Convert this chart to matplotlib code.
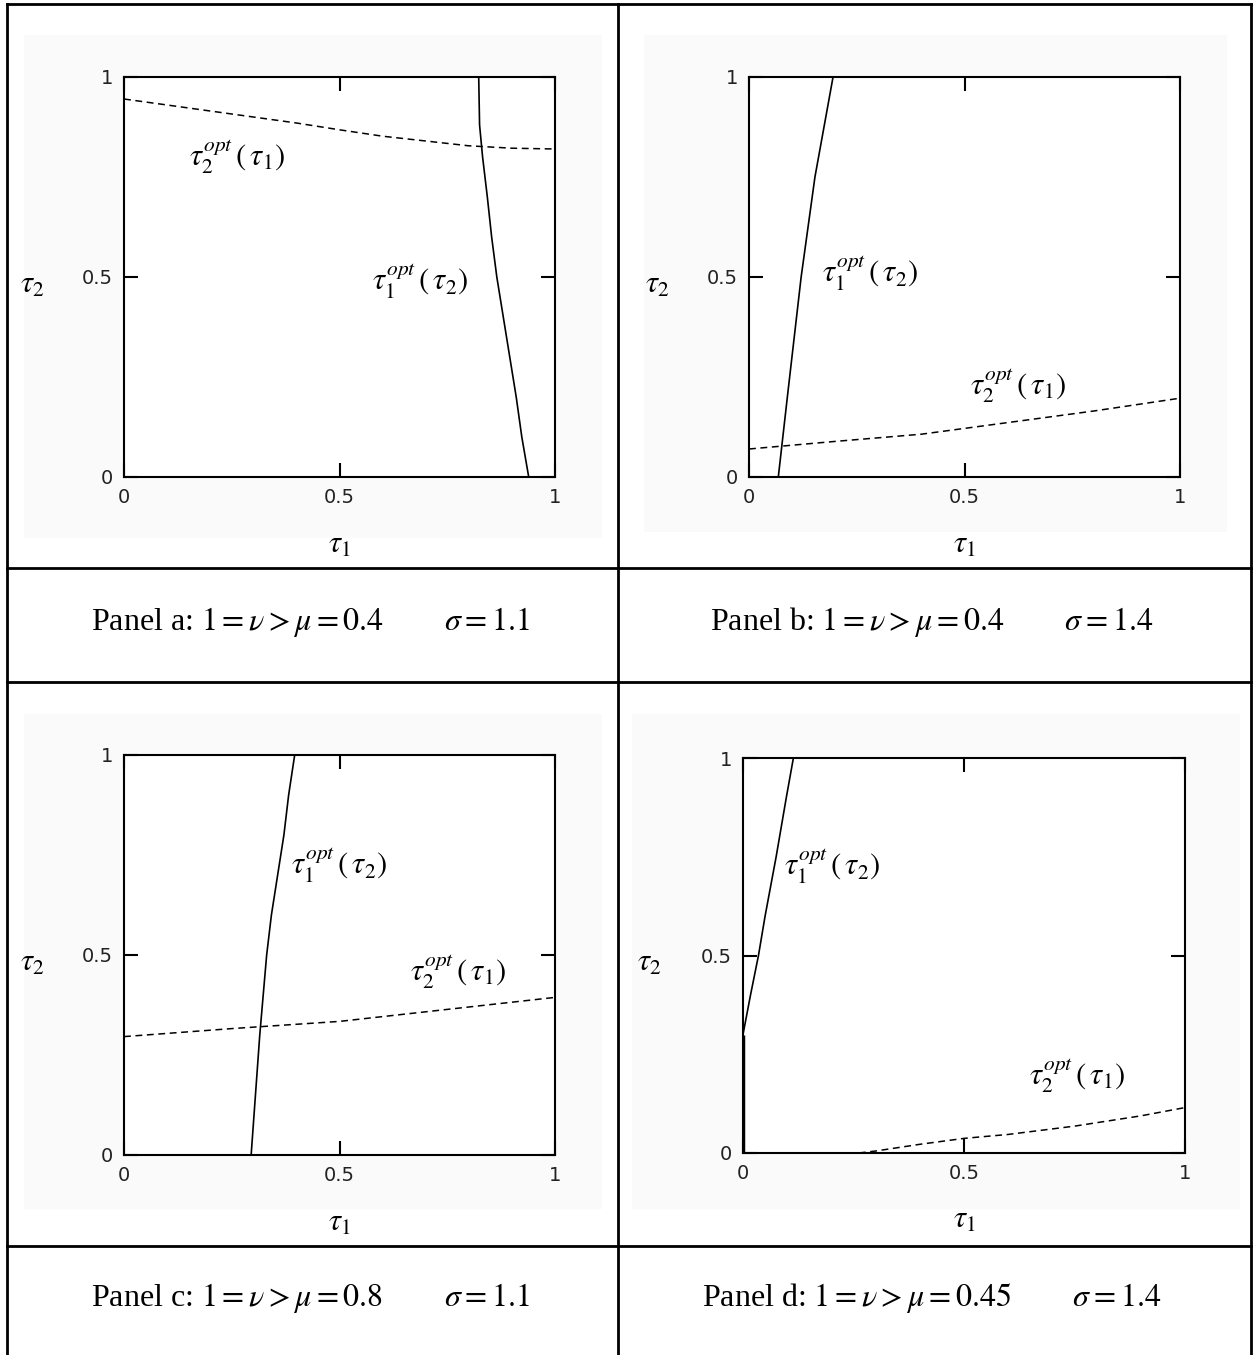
import matplotlib
matplotlib.use("Agg")
import matplotlib.pyplot as plt
from matplotlib.lines import Line2D
from matplotlib.patches import Rectangle

plt.rcParams['mathtext.fontset'] = 'stix'
plt.rcParams['font.family'] = ['Liberation Serif', 'DejaVu Serif']

W, H = 1255, 1355

# Panel a: mu = 0.4, sigma = 1.1
a_t1 = [0.0, 0.1, 0.2, 0.3, 0.4, 0.5, 0.6, 0.7, 0.8, 0.9, 1.0]
a_t2opt = [0.945, 0.93, 0.915, 0.90, 0.885, 0.868, 0.852, 0.84, 0.828, 0.822, 0.82]
a_t2 = [0.0, 0.1, 0.2, 0.3, 0.4, 0.5, 0.6, 0.7, 0.8, 0.88, 1.0]
a_t1opt = [0.939, 0.923, 0.91, 0.895, 0.88, 0.865, 0.853, 0.843, 0.832, 0.825, 0.823]

# Panel b: mu = 0.4, sigma = 1.4
b_t1 = [0.0, 0.2, 0.4, 0.6, 0.8, 1.0]
b_t2opt = [0.07, 0.089, 0.107, 0.136, 0.165, 0.197]
b_t2 = [0.0, 0.2, 0.5, 0.75, 1.0]
b_t1opt = [0.068, 0.089, 0.121, 0.153, 0.195]

# Panel c: mu = 0.8, sigma = 1.1
c_t1 = [0.0, 0.25, 0.5, 0.75, 1.0]
c_t2opt = [0.296, 0.316, 0.334, 0.364, 0.394]
c_t2 = [0.0, 0.3, 0.5, 0.6, 0.8, 0.9, 1.0]
c_t1opt = [0.295, 0.315, 0.331, 0.342, 0.371, 0.382, 0.396]

# Panel d: mu = 0.45, sigma = 1.4
d_t1 = [0.262, 0.3, 0.4, 0.5, 0.6, 0.75, 0.9, 1.0]
d_t2opt = [0.0, 0.005, 0.022, 0.037, 0.047, 0.068, 0.094, 0.115]
d_t2 = [0.0, 0.3, 0.4, 0.5, 0.6, 0.75, 0.9, 1.0]
d_t1opt = [0.0, 0.0, 0.017, 0.035, 0.05, 0.075, 0.098, 0.114]

captions = [r'Panel a: $1=\nu>\mu=0.4\qquad\ \ \sigma=1.1$',
            r'Panel b: $1=\nu>\mu=0.4\qquad\ \ \sigma=1.4$',
            r'Panel c: $1=\nu>\mu=0.8\qquad\ \ \sigma=1.1$',
            r'Panel d: $1=\nu>\mu=0.45\qquad\ \ \sigma=1.4$']

lab_t1opt = r'$\tau_1^{opt}\,\left(\,\tau_2\right)$'
lab_t2opt = r'$\tau_2^{opt}\,\left(\,\tau_1\right)$'

fig = plt.figure(figsize=(W / 100, H / 100), dpi=100)


def fx(px):
    return px / W


def fy(py):
    return 1 - py / H


# faint grey backgrounds of the pasted plots
for (x0, y0, x1, y1) in [(24, 35, 602, 538), (644, 35, 1227, 532),
                         (24, 714, 602, 1209), (632, 714, 1240, 1209)]:
    fig.add_artist(Rectangle((fx(x0), fy(y1)), fx(x1 - x0), (y1 - y0) / H,
                             transform=fig.transFigure, facecolor='#fafafa',
                             edgecolor='none', zorder=0))

# table lines
tl = dict(color='black', lw=2.0, transform=fig.transFigure)
for x in [6.5, 618, 1251]:
    fig.add_artist(Line2D([fx(x), fx(x)], [fy(4), 0], **tl))
for y in [4, 568, 682, 1246]:
    fig.add_artist(Line2D([fx(6.5), fx(1251)], [fy(y), fy(y)], **tl))

# axes boxes (left, right, top, bottom) in pixels
boxes = [(124, 555, 77, 477), (749, 1180, 77, 477),
         (124, 555, 755, 1155), (743, 1185, 758, 1153)]

curves = [(a_t1, a_t2opt, a_t2, a_t1opt),
          (b_t1, b_t2opt, b_t2, b_t1opt),
          (c_t1, c_t2opt, c_t2, c_t1opt),
          (d_t1, d_t2opt, d_t2, d_t1opt)]

# label positions in axes coords: (t1opt label, t2opt label)
label_pos = [((0.575, 0.49), (0.15, 0.80)),
             ((0.17, 0.51), (0.513, 0.228)),
             ((0.388, 0.725), (0.663, 0.458)),
             ((0.093, 0.726), (0.647, 0.195))]

cap_y = [622, 622, 1298, 1298]
cap_x = [310, 932, 310, 932]

for i, (l, r, t, b) in enumerate(boxes):
    ax = fig.add_axes([fx(l), fy(b), (r - l) / W, (b - t) / H])
    ax.set_facecolor('white')
    x1, y1, y2, x2 = curves[i]
    ax.plot(x1, y1, color='black', lw=1.1, ls=(0, (4.5, 3)))
    if i == 3:
        ax.plot([0, 0], [0, 0.3], color='black', lw=2.5, solid_capstyle='butt')
        ax.plot(x2[1:], y2[1:], color='black', lw=1.2)
    else:
        ax.plot(x2, y2, color='black', lw=1.2)
    ax.set_xlim(0, 1)
    ax.set_ylim(0, 1)
    for s in ax.spines.values():
        s.set_linewidth(1.5)
    ax.set_xticks([0, 0.5, 1])
    ax.set_yticks([0, 0.5, 1])
    ax.set_xticklabels(['0', '0.5', '1'])
    ax.set_yticklabels(['0', '0.5', '1'])
    ax.tick_params(direction='in', length=10, width=1.5, top=True, right=True,
                   labelsize=14, pad=8)
    for lab in ax.get_xticklabels() + ax.get_yticklabels():
        lab.set_family(['DejaVu Sans'])
        lab.set_color('#222222')
    (p1, p2) = label_pos[i]
    ax.text(p1[0], p1[1], lab_t1opt, transform=ax.transAxes, fontsize=22,
            ha='left', va='center')
    ax.text(p2[0], p2[1], lab_t2opt, transform=ax.transAxes, fontsize=22,
            ha='left', va='center')
    ax.text(-0.213, 0.48, r'$\tau_2$', transform=ax.transAxes, fontsize=22,
            ha='center', va='center')
    ax.text(0.5, -0.17, r'$\tau_1$', transform=ax.transAxes, fontsize=22,
            ha='center', va='center')
    fig.text(fx(cap_x[i]), fy(cap_y[i]), captions[i], fontsize=23,
             ha='center', va='center')

fig.savefig('out.png', dpi=100)
